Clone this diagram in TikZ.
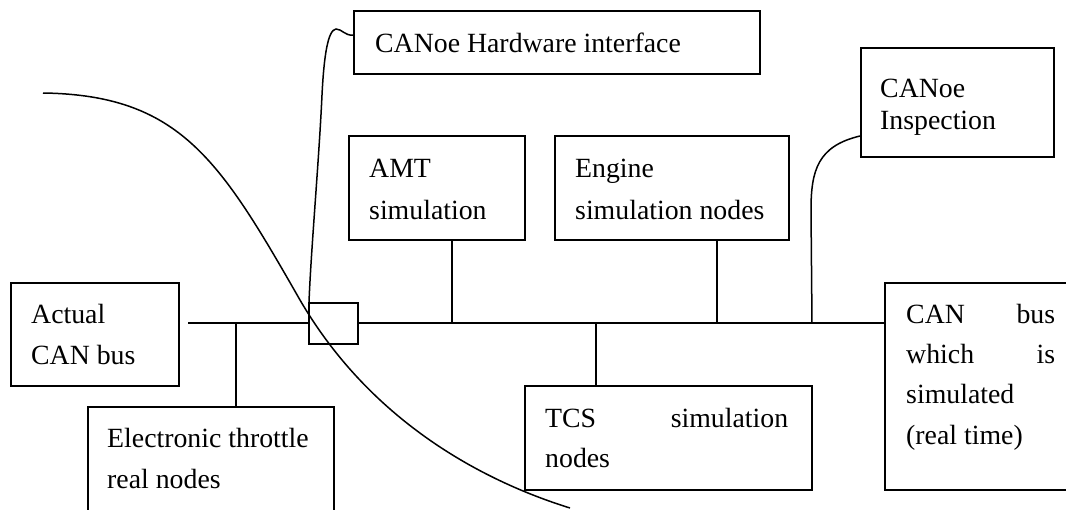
\documentclass[tikz,border=0pt]{standalone}
\usepackage{fontspec}
\setmainfont{Liberation Serif}
\begin{document}
\begin{tikzpicture}[x=1pt,y=-1pt,
  box/.style={draw,line width=1.5pt,rectangle,inner sep=0pt,anchor=north west},
  txt/.style={anchor=base west,inner sep=0pt,font=\fontsize{27.8pt}{34pt}\selectfont},
  wire/.style={line width=1.5pt}]
\clip (0,0) rectangle (1066,509);
\useasboundingbox (0,0) rectangle (1066,509);
% boxes
\node[box,minimum width=406pt,minimum height=63pt] (hw) at (353,10) {};
\node[box,minimum width=176pt,minimum height=104pt] (amt) at (348,135) {};
\node[box,minimum width=234pt,minimum height=104pt] (eng) at (554,135) {};
\node[box,minimum width=193pt,minimum height=109pt] (insp) at (860,47) {};
\node[box,minimum width=168pt,minimum height=103pt] (act) at (10,282) {};
\node[box,minimum width=246pt,minimum height=120pt] (elec) at (87,406) {};
\node[box,minimum width=287pt,minimum height=104pt] (tcs) at (524,385) {};
\node[box,minimum width=200pt,minimum height=207pt] (canb) at (884,282) {};
\node[box,minimum width=49pt,minimum height=41pt] (sq) at (308,302) {};
% texts
\node[txt] (thw) at (375,52) {CANoe Hardware interface};
\node[txt] (tamt1) at (369,177) {AMT};
\node[txt] (tamt2) at (369,219) {simulation};
\node[txt] (teng1) at (575,177) {Engine};
\node[txt] (teng2) at (575,219) {simulation nodes};
\node[txt] (tins1) at (880,97) {CANoe};
\node[txt] (tins2) at (880,129) {Inspection};
\node[txt] (tact1) at (31,323) {Actual};
\node[txt] (tact2) at (31,364) {CAN bus};
\node[txt] (tele1) at (107,447) {Electronic throttle};
\node[txt] (tele2) at (107,488) {real nodes};
\node[txt] (ttcs1) at (545,427) {\makebox[243pt][s]{TCS\hfill simulation}};
\node[txt] (ttcs2) at (545,467) {nodes};
\node[txt] (tcan1) at (906,323) {\makebox[149pt][s]{CAN\hfill bus}};
\node[txt] (tcan2) at (906,363) {\makebox[149pt][s]{which\hfill is}};
\node[txt] (tcan3) at (906,403) {simulated};
\node[txt] (tcan4) at (906,444) {(real time)};
% bus
\coordinate (busL) at (188,323);
\coordinate (tapE) at (236,323);
\coordinate (tapA) at (452,323);
\coordinate (tapT) at (596,323);
\coordinate (tapG) at (717,323);
\coordinate (tapI) at (812,323);
\draw[wire] (busL) -- (busL -| sq.west);
\draw[wire] (busL -| sq.east) -- (busL -| canb.west);
\draw[wire] (tapE) -- (tapE |- elec.north);
\draw[wire] (tapA) -- (tapA |- amt.south);
\draw[wire] (tapT) -- (tapT |- tcs.north);
\draw[wire] (tapG) -- (tapG |- eng.south);
% hardware interface connector
\coordinate (hwin) at (353,35);
\coordinate (sqin) at (309,302);
\draw[wire] (hwin) .. controls (345,36) and (342,29) .. (336,29)
  .. controls (328,30) and (324,55) .. (322,95)
  .. controls (319,160) and (311,250) .. (sqin);
% inspection connector
\coordinate (insin) at (860,136);
\draw[wire] (insin) .. controls (818,146) and (811,170) .. (811,210) -- (tapI);
% big curve
\coordinate (cs) at (43,93);
\coordinate (ce) at (570,508);
\draw[wire] (cs) .. controls (180,95) and (220,160) .. (300,300)
  .. controls (370,420) and (480,480) .. (ce);
\end{tikzpicture}
\end{document}
